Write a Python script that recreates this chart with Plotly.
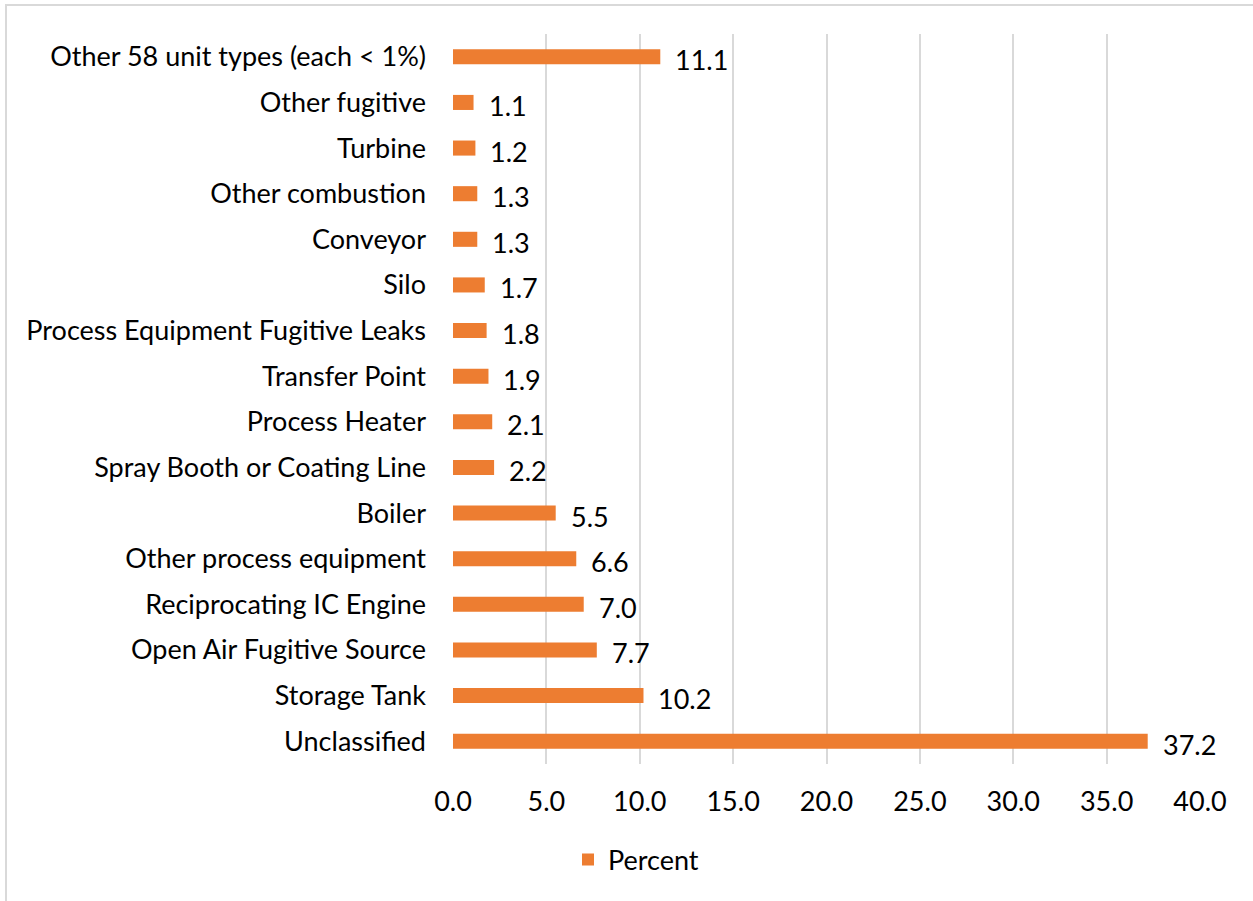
import plotly.graph_objects as go

# Share of emission units by unit type (percent), bottom to top
categories = [
    "Unclassified",
    "Storage Tank",
    "Open Air Fugitive Source",
    "Reciprocating IC Engine",
    "Other process equipment",
    "Boiler",
    "Spray Booth or Coating Line",
    "Process Heater",
    "Transfer Point",
    "Process Equipment Fugitive Leaks",
    "Silo",
    "Conveyor",
    "Other combustion",
    "Turbine",
    "Other fugitive",
    "Other 58 unit types (each < 1%)",
]
percent = [37.2, 10.2, 7.7, 7.0, 6.6, 5.5, 2.2, 2.1, 1.9, 1.8, 1.7, 1.3, 1.3, 1.2, 1.1, 11.1]
x_ticks = [0, 5, 10, 15, 20, 25, 30, 35, 40]

FONT = "Lato"
FS = 27
BAR = "#ED7D31"

fig = go.Figure()
fig.add_trace(go.Bar(
    y=categories,
    x=percent,
    orientation="h",
    name="Percent",
    marker=dict(color=BAR, line=dict(width=0)),
    width=0.33,
))

# value labels just past the end of each bar
for cat, val in zip(categories, percent):
    fig.add_annotation(
        x=val, y=cat, text=f"{val:.1f}", showarrow=False,
        xanchor="left", yanchor="middle", xshift=13, yshift=-3,
        font=dict(family=FONT, size=FS, color="#000000"),
    )

L, R, T, B = 453, 53, 34, 137
W, H = 1253, 901
pw, ph = W - L - R, H - T - B

# light chart-area border
fig.add_shape(
    type="rect", xref="paper", yref="paper",
    x0=(6 - L) / pw, x1=(W + 20 - L) / pw,
    y0=-(B + 20) / ph, y1=1 + (T - 5) / ph,
    line=dict(color="#D9D9D9", width=2), fillcolor="rgba(0,0,0,0)", layer="below",
)

fig.update_layout(
    width=W, height=H,
    margin=dict(l=L, r=R, t=T, b=B),
    paper_bgcolor="white", plot_bgcolor="white",
    font=dict(family=FONT, size=FS, color="#000000"),
    showlegend=True,
    legend=dict(
        orientation="h", x=(568 - L) / pw, xanchor="left",
        y=-(860 - (H - B)) / ph, yanchor="middle",
        font=dict(family=FONT, size=FS, color="#000000"),
        itemwidth=30,
    ),
    xaxis=dict(
        range=[0, 40], tickvals=x_ticks,
        ticktext=[f"{v:.1f}" for v in x_ticks],
        showgrid=True, gridcolor="#D9D9D9", gridwidth=1.5,
        zeroline=False, showline=False, ticks="",
        ticklabelstandoff=19,
        tickfont=dict(family=FONT, size=FS, color="#000000"),
    ),
    yaxis=dict(
        categoryorder="array", categoryarray=categories,
        showgrid=False, zeroline=False, showline=False, ticks="",
        ticklabelstandoff=26,
        tickfont=dict(family=FONT, size=FS, color="#000000"),
    ),
)

fig.write_html("out.html")
